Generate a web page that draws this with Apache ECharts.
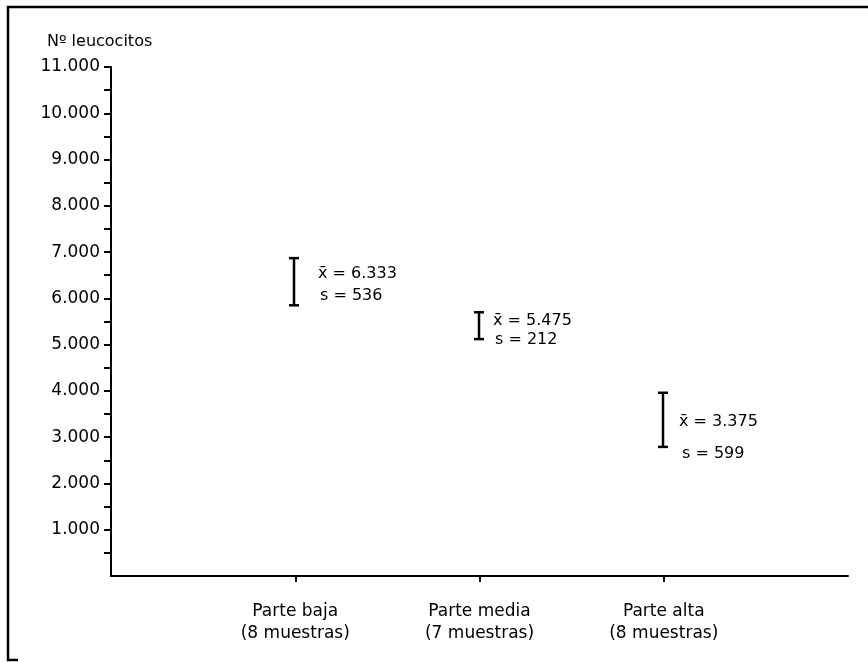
<!DOCTYPE html>
<html>
<head>
<meta charset="utf-8">
<script src="https://cdn.jsdelivr.net/npm/echarts@6/dist/echarts.min.js"></script>
<style>
html,body{margin:0;padding:0;background:#fff;}
#chart{width:868px;height:662px;}
</style>
</head>
<body>
<div id="chart"></div>
<script>
// ---- data ----
const categories = ['Parte baja\n(8 muestras)', 'Parte media\n(7 muestras)', 'Parte alta\n(8 muestras)'];
const means = [6333, 5475, 3375];
const sds = [536, 212, 599];
// bar extents
const lows = [5850, 5120, 2790];
const highs = [6870, 5700, 3960];
const yAxisTitle = 'Nº leucocitos';
const yMin = 0, yMax = 11000, yStep = 1000;
const yTickValues = [500, 1000, 1500, 2000, 2500, 3000, 3500, 4000, 4500, 5000, 5500,
  6000, 6500, 7000, 7500, 8000, 8500, 9000, 9500, 10000, 10500, 11000];

function fmt(v) {
  return String(v).replace(/\B(?=(\d{3})+(?!\d))/g, '.');
}
const meanLabels = means.map(m => 'x\u0304 = ' + fmt(m));
const sdLabels = sds.map(s => 's = ' + fmt(s));

// label layout (pixel offsets from bar centre)
const labelLayout = [
  {dx: 24, dy1: -8, dy2: 14, dx2: 26},
  {dx: 14, dy1: -5, dy2: 14, dx2: 16},
  {dx: 16, dy1: 2, dy2: 34, dx2: 19}
];

const FONT = 'DejaVu Sans';
const xCats = [''].concat(categories).concat(['']);
const barData = categories.map((c, i) => [i + 1, lows[i], highs[i]]);

const chart = echarts.init(document.getElementById('chart'));
chart.setOption({
  animation: false,
  backgroundColor: '#fff',
  title: {
    text: yAxisTitle,
    left: 42, top: 29,
    textStyle: {fontFamily: FONT, fontSize: 16, fontWeight: 'normal', color: '#000'}
  },
  graphic: [{
    type: 'polyline',
    shape: {points: [[18, 660], [8, 660], [8, 7], [868, 7]]},
    style: {stroke: '#000', lineWidth: 2.5, fill: null}
  }],
  grid: {left: 111, right: 20, top: 67, bottom: 86, containLabel: false},
  xAxis: {
    type: 'category',
    data: xCats,
    boundaryGap: false,
    axisLine: {lineStyle: {color: '#000', width: 2}},
    axisTick: {
      show: true, length: 6,
      interval: (i) => i >= 1 && i <= categories.length,
      lineStyle: {color: '#000', width: 2}
    },
    axisLabel: {
      interval: (i) => i >= 1 && i <= categories.length,
      margin: 25,
      color: '#000', fontFamily: FONT, fontSize: 17, lineHeight: 22, align: 'center'
    },
    splitLine: {show: false}
  },
  yAxis: {
    type: 'value',
    min: yMin, max: yMax, interval: yStep,
    axisLine: {show: true, lineStyle: {color: '#000', width: 2}},
    axisTick: {show: true, length: 7, customValues: yTickValues, lineStyle: {color: '#000', width: 2}},
    axisLabel: {
      margin: 11,
      color: '#000', fontFamily: FONT, fontSize: 17,
      formatter: (v) => v === 0 ? '' : fmt(v)
    },
    splitLine: {show: false}
  },
  series: [{
    type: 'custom',
    data: barData,
    renderItem: function (params, api) {
      const i = params.dataIndex;
      const xv = api.value(0);
      const top = api.coord([xv, api.value(2)]);
      const bot = api.coord([xv, api.value(1)]);
      const x = Math.round(top[0]) - 1;
      const hw = 5;
      const mid = (top[1] + bot[1]) / 2;
      const L = labelLayout[i];
      const st = {stroke: '#000', lineWidth: 2.5};
      return {
        type: 'group',
        children: [
          {type: 'line', shape: {x1: x, y1: top[1], x2: x, y2: bot[1]}, style: st},
          {type: 'line', shape: {x1: x - hw, y1: top[1], x2: x + hw, y2: top[1]}, style: st},
          {type: 'line', shape: {x1: x - hw, y1: bot[1], x2: x + hw, y2: bot[1]}, style: st},
          {type: 'text', style: {text: meanLabels[i], x: x + L.dx, y: mid + L.dy1, fill: '#000',
            fontFamily: FONT, fontSize: 16, align: 'left', verticalAlign: 'middle'}},
          {type: 'text', style: {text: sdLabels[i], x: x + L.dx2, y: mid + L.dy2, fill: '#000',
            fontFamily: FONT, fontSize: 16, align: 'left', verticalAlign: 'middle'}}
        ]
      };
    }
  }]
});
</script>
</body>
</html>
